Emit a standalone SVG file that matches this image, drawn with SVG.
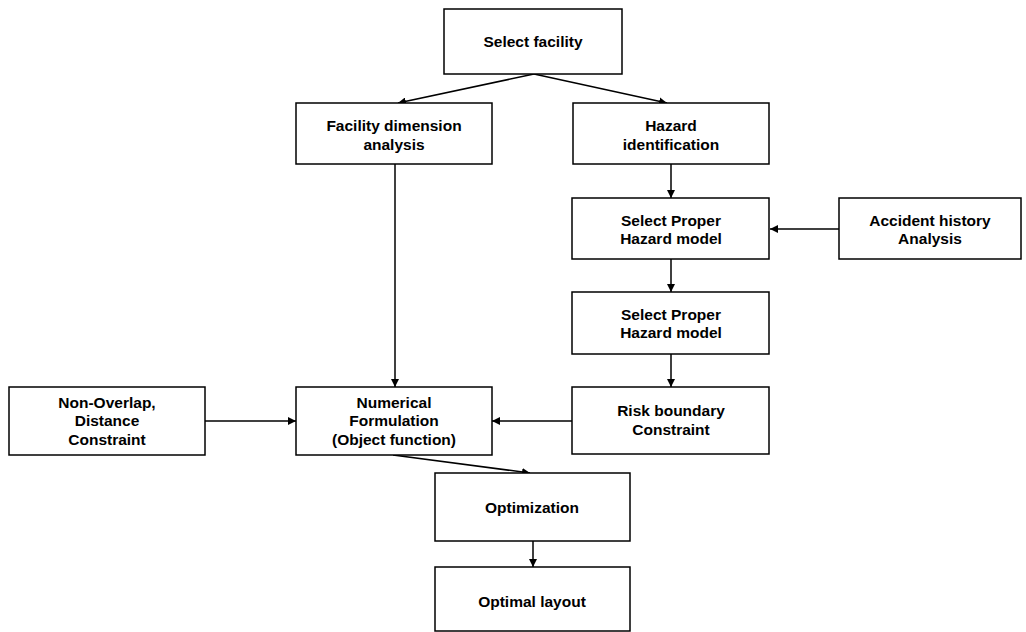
<svg xmlns="http://www.w3.org/2000/svg" width="1026" height="632" viewBox="0 0 1026 632">
<style>
.box{fill:#fff;stroke:#000;stroke-width:1.5}
.t{font-family:"Liberation Sans",Arial,sans-serif;font-weight:bold;font-size:15.5px;text-anchor:middle;fill:#000}
.c{stroke:#000;stroke-width:1.5;fill:none;marker-end:url(#ah)}
</style>
<defs>
<marker id="ah" viewBox="0 0 10 10" refX="10" refY="5" markerWidth="8" markerHeight="8" markerUnits="userSpaceOnUse" orient="auto">
<path d="M0,0 L10,5 L0,10 z" fill="#000"/>
</marker>
</defs>
<rect width="1026" height="632" fill="#fff"/>
<g id="connectors">
<line class="c" x1="534" y1="74" x2="398" y2="103"/>
<line class="c" x1="534" y1="74" x2="667" y2="103"/>
<line class="c" x1="395" y1="164" x2="395" y2="387"/>
<line class="c" x1="671" y1="164" x2="671" y2="198"/>
<line class="c" x1="839" y1="229" x2="770" y2="229"/>
<line class="c" x1="671" y1="259" x2="671" y2="292"/>
<line class="c" x1="671" y1="354" x2="671" y2="387"/>
<line class="c" x1="205" y1="421" x2="296" y2="421"/>
<line class="c" x1="572" y1="421" x2="492" y2="421"/>
<line class="c" x1="393" y1="455" x2="530" y2="473"/>
<line class="c" x1="533" y1="541" x2="533" y2="567"/>
</g>
<g id="select-facility"><rect class="box" x="444" y="9" width="178" height="65"/><text class="t" x="533" y="47">Select facility</text></g>
<g id="facility-dimension"><rect class="box" x="296" y="103" width="196" height="61"/><text class="t" x="394" y="131">Facility dimension</text><text class="t" x="394" y="149.5">analysis</text></g>
<g id="hazard-identification"><rect class="box" x="573" y="103" width="196" height="61"/><text class="t" x="671" y="131">Hazard</text><text class="t" x="671" y="149.5">identification</text></g>
<g id="select-proper-1"><rect class="box" x="572" y="198" width="197" height="61"/><text class="t" x="671" y="225.5">Select Proper</text><text class="t" x="671" y="244">Hazard  model</text></g>
<g id="accident-history"><rect class="box" x="839" y="198" width="182" height="61"/><text class="t" x="930" y="225.5">Accident history</text><text class="t" x="930" y="244">Analysis</text></g>
<g id="select-proper-2"><rect class="box" x="572" y="292" width="197" height="62"/><text class="t" x="671" y="319.5">Select Proper</text><text class="t" x="671" y="338">Hazard  model</text></g>
<g id="non-overlap"><rect class="box" x="9" y="387" width="196" height="68"/><text class="t" x="107" y="407.5">Non-Overlap,</text><text class="t" x="107" y="426">Distance</text><text class="t" x="107" y="444.5">Constraint</text></g>
<g id="numerical-formulation"><rect class="box" x="296" y="387" width="196" height="68"/><text class="t" x="394" y="407.5">Numerical</text><text class="t" x="394" y="426">Formulation</text><text class="t" x="394" y="444.5">(Object function)</text></g>
<g id="risk-boundary"><rect class="box" x="572" y="387" width="197" height="67"/><text class="t" x="671" y="416">Risk boundary</text><text class="t" x="671" y="434.5">Constraint</text></g>
<g id="optimization"><rect class="box" x="435" y="473" width="195" height="68"/><text class="t" x="532" y="513">Optimization</text></g>
<g id="optimal-layout"><rect class="box" x="435" y="567" width="195" height="64"/><text class="t" x="532" y="607">Optimal layout</text></g>
</svg>
